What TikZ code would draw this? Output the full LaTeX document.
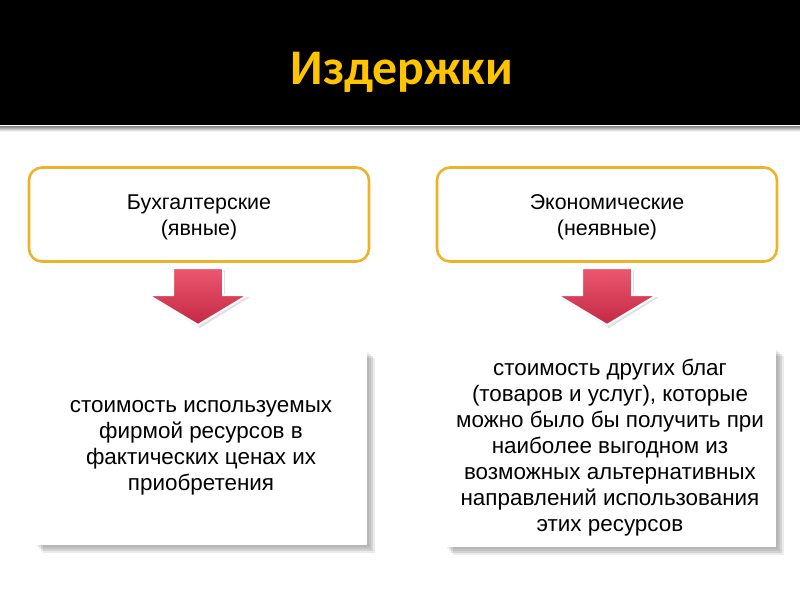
\documentclass[tikz,border=0pt]{standalone}
\usepackage{fontspec}
\setmainfont{Liberation Sans}
\newfontfamily\titlefont{Carlito}
\usetikzlibrary{shadows}
\definecolor{titleyellow}{RGB}{255,196,0}
\definecolor{boxorange}{RGB}{238,178,40}
\definecolor{arrowtop}{RGB}{236,88,112}
\definecolor{arrowbot}{RGB}{196,40,68}
\tikzset{
  topbox/.style={draw=boxorange, line width=2.6bp, rounded corners=13bp, fill=white,
    minimum width=340bp, minimum height=94bp, inner sep=0pt},
  toplabel/.style={align=center, font=\fontsize{21.5}{26}\selectfont, inner sep=0pt},
  softshadow/.style={
    general shadow={fill=black, opacity=0.06, shadow xshift=2bp, shadow yshift=-2bp},
    general shadow={fill=black, opacity=0.08, shadow xshift=4bp, shadow yshift=-4bp},
    general shadow={fill=black, opacity=0.10, shadow xshift=6bp, shadow yshift=-6bp},
    general shadow={fill=black, opacity=0.08, shadow xshift=8bp, shadow yshift=-8bp}},
  descbox/.style={fill=white, softshadow, align=center, inner sep=0pt,
    font=\fontsize{22.5}{26}\selectfont},
  arrowshape/.style={top color=arrowtop, bottom color=arrowbot, draw=white, line width=2bp, line join=miter},
  arrowshadow/.style={fill=black, opacity=0.12}
}
\begin{document}
\begin{tikzpicture}[x=1bp, y=-1bp]
\useasboundingbox (0,0) rectangle (800,600);
\fill[white] (0,0) rectangle (800,600);
\fill[black] (0,0) rectangle (800,125);
\shade[top color=black!45, bottom color=white] (0,126.5) rectangle (800,131.5);

\node[text=titleyellow, anchor=base, font=\titlefont\bfseries\fontsize{50}{56}\selectfont] (title) at (402,85) {Издержки};

\node[topbox, label={[toplabel, yshift=-2.5bp]center:{Бухгалтерские\\(явные)}}] (b1) at (199,214.5) {};
\node[topbox, label={[toplabel, yshift=-2.5bp]center:{Экономические\\(неявные)}}] (b2) at (607,214.5) {};

\foreach \cx/\nm in {198/a1, 607/a2}{
  \coordinate (\nm) at (\cx,268);
  \begin{scope}[shift={(\nm)}]
    \fill[arrowshadow] (-23,2) -- (27,2) -- (27,29) -- (52,29) -- (2,60) -- (-48,29) -- (-23,29) -- cycle;
    \path[arrowshape] (-25,0) -- (25,0) -- (25,27) -- (50,27) -- (0,57) -- (-50,27) -- (-25,27) -- cycle;
  \end{scope}
}

\node[descbox, minimum width=331bp, minimum height=195bp] (d1) at (201,447.5)
  {стоимость используемых\\фирмой ресурсов в\\фактических ценах их\\приобретения};
\node[descbox, minimum width=331bp, minimum height=199bp] (d2) at (610,447.5)
  {стоимость других благ\\(товаров и услуг), которые\\можно было бы получить при\\наиболее выгодном из\\возможных альтернативных\\направлений использования\\этих ресурсов};
\end{tikzpicture}
\end{document}
